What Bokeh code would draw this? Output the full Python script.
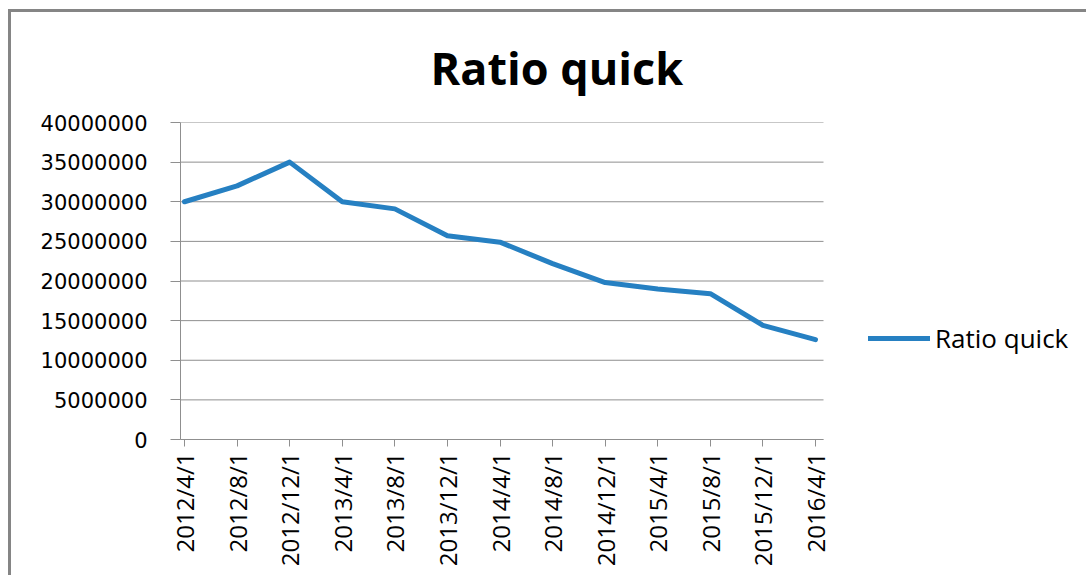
from bokeh.plotting import figure
from bokeh.models import (Range1d, FixedTicker, PrintfTickFormatter, Legend, LegendItem)
from bokeh.embed import file_html
from bokeh.resources import INLINE
import math

# Quick ratio by reporting date
dates = ["2012/4/1", "2012/8/1", "2012/12/1", "2013/4/1", "2013/8/1", "2013/12/1",
         "2014/4/1", "2014/8/1", "2014/12/1", "2015/4/1", "2015/8/1", "2015/12/1", "2016/4/1"]
ratio_quick = [30000000, 32000000, 35000000, 30000000, 29100000, 25700000,
               24900000, 22200000, 19800000, 19000000, 18400000, 14400000, 12600000]
y_ticks = [0, 5000000, 10000000, 15000000, 20000000, 25000000, 30000000, 35000000, 40000000]

idx = list(range(len(dates)))

GRID = "#8f8f8f"
BLUE = "#2680c2"

# plot area spans a little past the first and last category;
# the frame continues to the right to hold the legend
X_LO = -0.076
X_HI = len(dates) - 1 + 0.152
PLOT_W = 643        # pixel width of the gridded area
FRAME_W = 909       # full frame width, gridded area + legend space
x_end = X_LO + (X_HI - X_LO) * FRAME_W / PLOT_W

p = figure(width=1078, height=566, output_backend="svg", toolbar_location=None,
           x_range=Range1d(X_LO, x_end),
           y_range=Range1d(y_ticks[0], y_ticks[-1]),
           min_border_left=169, min_border_right=0,
           min_border_top=110, min_border_bottom=139,
           background_fill_color="white", border_fill_color="white")
p.styles = {"margin-left": "8px", "margin-top": "9px",
            "border-top": "3px solid #858585", "border-left": "3px solid #858585"}
p.outline_line_color = None

p.title.text = "Ratio quick"
p.title.text_font = "Open Sans"
p.title.text_font_style = "bold"
p.title.text_font_size = "45px"
p.title.text_color = "black"
p.title.align = "left"
p.title.offset = 250
p.title.vertical_align = "top"
p.title.standoff = 45

# horizontal gridlines limited to the plot area
p.segment(x0=[X_LO] * len(y_ticks), x1=[X_HI] * len(y_ticks), y0=y_ticks, y1=y_ticks,
          line_color=GRID, line_width=1)

r = p.line(idx, ratio_quick, line_color=BLUE, line_width=5,
           line_join="round", line_cap="round")

# axes
xa = p.xaxis[0]
xa.bounds = (X_LO, X_HI)
xa.ticker = FixedTicker(ticks=idx)
xa.major_label_overrides = {i: d for i, d in zip(idx, dates)}
xa.major_label_orientation = math.pi / 2
xa.major_label_text_font = "Open Sans"
xa.major_label_text_font_size = "24px"
xa.major_label_text_color = "black"
xa.major_label_standoff = 6
xa.axis_line_color = GRID
xa.major_tick_line_color = GRID
xa.major_tick_out = 7
xa.major_tick_in = 0
xa.minor_tick_line_color = None

ya = p.yaxis[0]
ya.ticker = FixedTicker(ticks=y_ticks)
ya.formatter = PrintfTickFormatter(format="%d")
ya.major_label_text_font = "DejaVu Sans"
ya.major_label_text_font_size = "21px"
ya.major_label_text_color = "black"
ya.major_label_standoff = 23
ya.axis_line_color = GRID
ya.major_tick_line_color = GRID
ya.major_tick_out = 10
ya.major_tick_in = 0
ya.minor_tick_line_color = None

p.xgrid.grid_line_color = None
p.ygrid.grid_line_color = None

legend = Legend(items=[LegendItem(label="Ratio quick", renderers=[r])],
                location=(688, 83), orientation="vertical",
                glyph_width=62, glyph_height=20, label_height=20,
                label_standoff=5, padding=0, margin=0, spacing=0,
                border_line_color=None, background_fill_alpha=0,
                label_text_font="Open Sans", label_text_font_size="26px",
                label_text_color="black")
p.add_layout(legend, "center")

open("out.html", "w").write(file_html(p, INLINE))
